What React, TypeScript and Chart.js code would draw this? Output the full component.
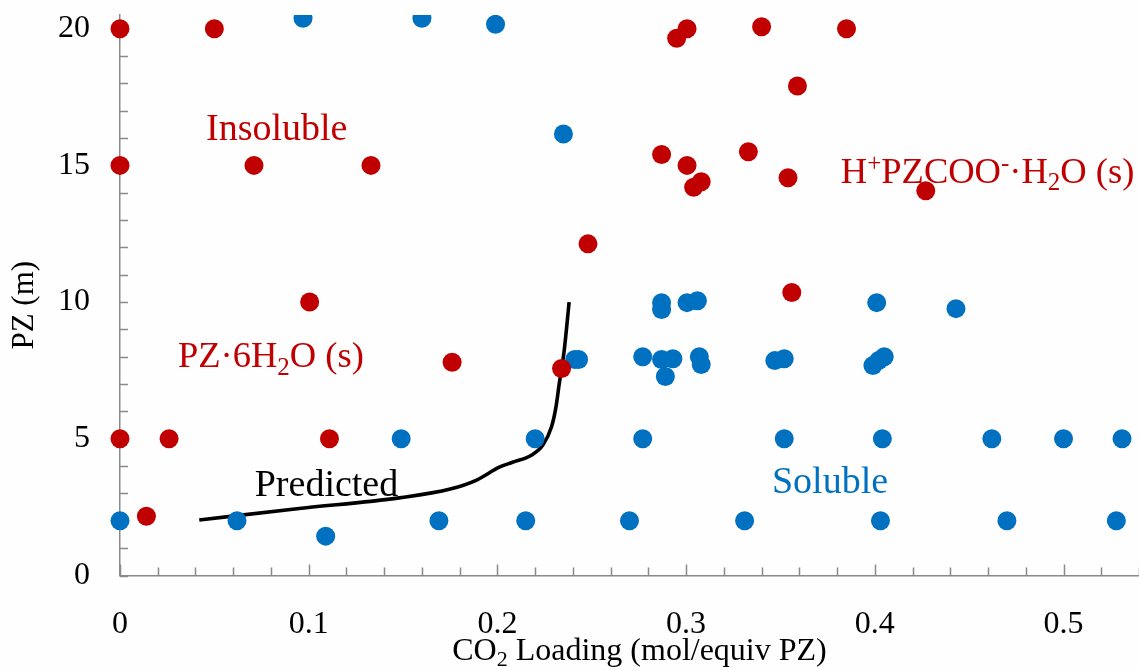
import React, { useEffect, useRef } from 'react';
import { Chart, registerables } from 'chart.js';

Chart.register(...registerables);

// ---- data ----
// Insoluble points (red)
const redX = [0, 0.05, 0, 0.071, 0.133, 0.1005, 0.176, 0.234, 0, 0.026, 0.111, 0.014, 0.248, 0.295, 0.3005, 0.34, 0.385, 0.359, 0.287, 0.3005, 0.333, 0.304, 0.308, 0.354, 0.427, 0.356];
const redY = [20, 20, 15, 15, 15, 10, 7.8, 7.57, 5, 5, 5, 2.17, 12.13, 19.65, 20, 20.07, 20, 17.9, 15.4, 15.0, 15.5, 14.2, 14.4, 14.55, 14.07, 10.35];

// Soluble points (blue)
const blueX = [0.097, 0.16, 0.199, 0.235, 0, 0.062, 0.109, 0.169, 0.215, 0.27, 0.331, 0.403, 0.47, 0.528, 0.149, 0.22, 0.277, 0.352, 0.404, 0.462, 0.5, 0.531, 0.241, 0.243, 0.277, 0.287, 0.293, 0.289, 0.307, 0.308, 0.347, 0.352, 0.399, 0.402, 0.405, 0.287, 0.287, 0.3005, 0.306, 0.401, 0.443];
const blueY = [20.38, 20.38, 20.16, 16.15, 2.0, 2.0, 1.44, 2.0, 2.0, 2.0, 2.0, 2.0, 2.0, 2.0, 5, 5, 5, 5, 5, 5, 5, 5, 7.9, 7.9, 8.0, 7.9, 7.93, 7.28, 8.0, 7.72, 7.86, 7.93, 7.68, 7.86, 8.0, 9.98, 9.73, 9.98, 10.05, 9.98, 9.76];

// Predicted solubility curve (black)
const predX = [0.042, 0.095, 0.148, 0.175, 0.189, 0.201, 0.208, 0.218, 0.224, 0.2286, 0.231, 0.2328, 0.2354, 0.238];
const predY = [2.03, 2.45, 2.84, 3.16, 3.49, 3.96, 4.14, 4.4, 4.76, 5.42, 6.15, 7.03, 8.23, 10.0];

// ---- axes ----
const X_MIN = 0;
const X_MAX = 0.54;
const Y_MIN = 0;
const Y_MAX = 20.5;
const xMajorTicks = [0, 0.1, 0.2, 0.3, 0.4, 0.5];
const xTickLabels = ['0', '0.1', '0.2', '0.3', '0.4', '0.5'];
const yMajorTicks = [0, 5, 10, 15, 20];
const yTickLabels = ['0', '5', '10', '15', '20'];
const X_MINOR_STEP = 0.02;
const Y_MINOR_STEP = 1;

// ---- styles ----
const RED = '#C00000';
const BLUE = '#0070C0';
const AXIS = '#8a8a8a';
const FONT = '"Liberation Serif", "Times New Roman", serif';

type Seg = { t: string; s?: 'sub' | 'sup' };

const annotations: { segs: Seg[]; x: number; y: number; color: string; size: number }[] = [
  { segs: [{ t: 'Insoluble' }], x: 0.0456, y: 15.93, color: RED, size: 38 },
  { segs: [{ t: 'PZ·6H' }, { t: '2', s: 'sub' }, { t: 'O (s)' }], x: 0.0307, y: 7.61, color: RED, size: 36.5 },
  { segs: [{ t: 'H' }, { t: '+', s: 'sup' }, { t: 'PZCOO' }, { t: '-', s: 'sup' }, { t: '·H' }, { t: '2', s: 'sub' }, { t: 'O (s)' }], x: 0.382, y: 14.36, color: RED, size: 36.5 },
  { segs: [{ t: 'Predicted' }], x: 0.0714, y: 2.91, color: '#000000', size: 38 },
  { segs: [{ t: 'Soluble' }], x: 0.3455, y: 3.02, color: BLUE, size: 38 },
];

function drawRich(ctx: CanvasRenderingContext2D, segs: Seg[], x: number, y: number, size: number, color: string, align: 'left' | 'center' = 'left') {
  const fontFor = (s?: string) => `${s ? Math.round(size * 0.68) : size}px ${FONT}`;
  let total = 0;
  const widths = segs.map((seg) => {
    ctx.font = fontFor(seg.s);
    const w = ctx.measureText(seg.t).width;
    total += w;
    return w;
  });
  let cx = align === 'center' ? x - total / 2 : x;
  ctx.fillStyle = color;
  ctx.textAlign = 'left';
  ctx.textBaseline = 'alphabetic';
  segs.forEach((seg, i) => {
    ctx.font = fontFor(seg.s);
    const dy = seg.s === 'sub' ? size * 0.2 : seg.s === 'sup' ? -size * 0.33 : 0;
    ctx.fillText(seg.t, cx, y + dy);
    cx += widths[i];
  });
}

const decorPlugin = {
  id: 'decor',
  beforeDatasetsDraw(chart: any) {
    const { ctx, chartArea, scales } = chart;
    const xs = scales.x;
    const ys = scales.y;
    ctx.save();
    ctx.strokeStyle = AXIS;
    ctx.lineWidth = 1.5;
    const nx = Math.round((X_MAX - X_MIN) / X_MINOR_STEP);
    for (let i = 0; i <= nx; i++) {
      const v = X_MIN + i * X_MINOR_STEP;
      const px = Math.round(xs.getPixelForValue(v)) + 0.5;
      const major = Math.abs(v * 10 - Math.round(v * 10)) < 1e-6;
      const len = major ? 11 : 8;
      ctx.beginPath();
      ctx.moveTo(px, chartArea.bottom);
      ctx.lineTo(px, chartArea.bottom - len);
      ctx.stroke();
    }
    const ny = Math.floor((Y_MAX - Y_MIN) / Y_MINOR_STEP);
    for (let i = 0; i <= ny; i++) {
      const v = Y_MIN + i * Y_MINOR_STEP;
      const py = Math.round(ys.getPixelForValue(v)) + 0.5;
      ctx.beginPath();
      ctx.moveTo(chartArea.left, py);
      ctx.lineTo(chartArea.left + 8, py);
      ctx.stroke();
    }
    // in-plot text labels
    annotations.forEach((a) => {
      drawRich(ctx, a.segs, xs.getPixelForValue(a.x), ys.getPixelForValue(a.y), a.size, a.color);
    });
    // axis titles
    drawRich(ctx, [{ t: 'CO' }, { t: '2', s: 'sub' }, { t: ' Loading (mol/equiv PZ)' }], (chartArea.left + chartArea.right) / 2 + 10, chartArea.bottom + 84, 32, '#000000', 'center');
    ctx.save();
    ctx.translate(33, (chartArea.top + chartArea.bottom) / 2 + 10);
    ctx.rotate(-Math.PI / 2);
    drawRich(ctx, [{ t: 'PZ (m)' }], 0, 0, 31, '#000000', 'center');
    ctx.restore();
    ctx.restore();
  },
};

export default function App() {
  const canvasRef = useRef<HTMLCanvasElement | null>(null);

  useEffect(() => {
    const canvas = canvasRef.current;
    if (!canvas) return;
    const redData = redX.map((x, i) => ({ x, y: redY[i] }));
    const blueData = blueX.map((x, i) => ({ x, y: blueY[i] }));
    const predData = predX.map((x, i) => ({ x, y: predY[i] }));

    const chart = new Chart(canvas, {
      type: 'scatter',
      data: {
        datasets: [
          {
            label: 'Insoluble',
            data: redData,
            backgroundColor: RED,
            borderColor: RED,
            borderWidth: 0,
            pointRadius: 9.5,
            clip: false as any,
          },
          {
            label: 'Soluble',
            data: blueData,
            backgroundColor: BLUE,
            borderColor: BLUE,
            borderWidth: 0,
            pointRadius: 9.5,
            clip: { left: false, top: 0, right: false, bottom: false } as any,
          },
          {
            type: 'line' as any,
            label: 'Predicted',
            data: predData,
            borderColor: '#000000',
            borderWidth: 3.6,
            pointRadius: 0,
            fill: false,
            cubicInterpolationMode: 'monotone',
            clip: false as any,
          } as any,
        ],
      },
      options: {
        responsive: false,
        animation: false,
        events: [],
        layout: { autoPadding: false, padding: { top: 15, right: 0, left: 0, bottom: 0 } },
        plugins: { legend: { display: false }, tooltip: { enabled: false } },
        scales: {
          x: {
            type: 'linear',
            min: X_MIN,
            max: X_MAX,
            afterBuildTicks: (scale: any) => {
              scale.ticks = xMajorTicks.map((v) => ({ value: v }));
            },
            afterFit: (scale: any) => {
              scale.height = 94.5;
              scale.paddingLeft = 0;
              scale.paddingRight = 0;
            },
            ticks: {
              autoSkip: false,
              maxRotation: 0,
              padding: 30,
              color: '#000000',
              font: { family: FONT, size: 32 },
              callback: (value: any) => {
                const i = xMajorTicks.findIndex((t) => Math.abs(t - Number(value)) < 1e-9);
                return i >= 0 ? xTickLabels[i] : '';
              },
            },
            grid: { display: true, drawOnChartArea: false, drawTicks: false },
            border: { display: true, color: AXIS, width: 1.5 },
          },
          y: {
            type: 'linear',
            min: Y_MIN,
            max: Y_MAX,
            afterBuildTicks: (scale: any) => {
              scale.ticks = yMajorTicks.map((v) => ({ value: v }));
            },
            afterFit: (scale: any) => {
              scale.width = 120;
              scale.paddingTop = 0;
              scale.paddingBottom = 0;
            },
            ticks: {
              autoSkip: false,
              padding: 30,
              color: '#000000',
              font: { family: FONT, size: 32 },
              callback: (value: any) => {
                const i = yMajorTicks.findIndex((t) => Math.abs(t - Number(value)) < 1e-9);
                return i >= 0 ? yTickLabels[i] : '';
              },
            },
            grid: { display: true, drawOnChartArea: false, drawTicks: false },
            border: { display: true, color: AXIS, width: 1.5 },
          },
        },
      },
      plugins: [decorPlugin],
    });

    return () => chart.destroy();
  }, []);

  return (
    <div style={{ position: 'absolute', left: 0, top: 0, width: 1139, height: 670, background: '#fefefe' }}>
      <canvas ref={canvasRef} width={1139} height={670} style={{ display: 'block' }} />
    </div>
  );
}
